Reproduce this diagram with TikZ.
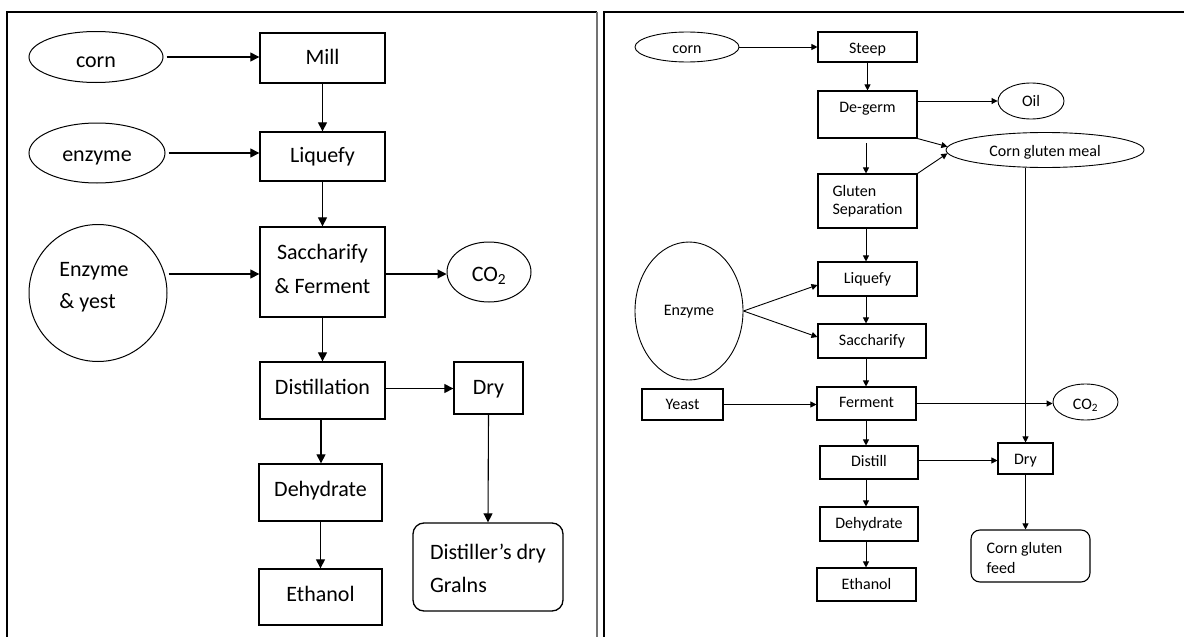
\documentclass[tikz,border=0pt]{standalone}
\usepackage{fontspec}
\setmainfont{Carlito}
\usetikzlibrary{arrows.meta,shapes.geometric,calc}
\newcommand{\twoc}[2]{\begin{tabular}[t]{@{}c@{}}#1\\#2\end{tabular}}
\newcommand{\twol}[2]{\begin{tabular}[t]{@{}l@{}}#1\\#2\end{tabular}}
\tikzset{
  tp/.style 2 args={text height=#1pt, text depth=#2pt},
  lbox/.style={draw, line width=1.3pt, rectangle, inner sep=0pt, minimum width=125pt, minimum height=50pt, font=\fontsize{22}{33}\selectfont},
  lell/.style={draw, line width=1pt, ellipse, inner sep=0pt, font=\fontsize{22}{33}\selectfont},
  larrow/.style={line width=1.1pt, -{Triangle[length=9pt,width=9pt]}},
  rbox/.style={draw, line width=1.1pt, rectangle, inner sep=0pt, minimum width=99pt, minimum height=33pt, font=\fontsize{16}{17.3}\selectfont},
  rell/.style={draw, line width=0.9pt, ellipse, inner sep=0pt, font=\fontsize{16}{17.3}\selectfont},
  rarrow/.style={line width=0.9pt, -{Triangle[length=6pt,width=6pt]}},
  frame/.style={line width=1.2pt}
}
\begin{document}
\begin{tikzpicture}[x=1pt,y=-1pt]
\useasboundingbox (0,0) rectangle (1184,637);
% panel frames
\draw[frame] (7,637) -- (7,12) -- (597,12);
\draw[line width=2pt, black!55] (597,12) -- (597,637);
\draw[frame] (604,637) -- (604,12) -- (1184,12);

% ---------------- left panel ----------------
\node[lell, tp={20}{0}, minimum width=134pt, minimum height=51pt] (lcorn) at (96,57) {corn};
\node[lbox, tp={12}{0}] (mill) at (322.5,58) {Mill};
\node[lell, tp={16}{0}, minimum width=136pt, minimum height=60pt] (lenz) at (97,153) {enzyme};
\node[lbox, tp={12}{0}, minimum height=49pt] (lliq) at (322.5,156.5) {Liquefy};
\node[lell, tp={0}{34}, minimum width=138pt, minimum height=137pt, font=\fontsize{22}{32}\selectfont] (ley) at (98,293) {\twol{Enzyme}{\& yest}\hspace*{8pt}};
\node[lbox, tp={0}{26}, minimum height=90pt, font=\fontsize{22}{34}\selectfont] (lsac) at (322.5,272) {\twoc{Saccharify}{\& Ferment}};
\node[lell, tp={18}{0}, minimum width=84pt, minimum height=60pt] (lco2) at (489,272) {CO\textsubscript{2}};
\node[lbox, tp={7}{0}, minimum height=57pt] (ldist) at (322.5,390.5) {Distillation};
\node[lbox, tp={12}{0}, minimum width=69pt, minimum height=52pt] (ldry) at (488.5,388) {Dry};
\node[lbox, tp={7}{0}, minimum width=123pt, minimum height=57pt] (ldeh) at (320.5,492.5) {Dehydrate};
\node[lbox, tp={9.4}{0}, minimum width=123pt, minimum height=56pt] (leth) at (320.5,597) {Ethanol};
\node[lbox, tp={0}{16}, rounded corners=11pt, minimum width=150pt, minimum height=88pt, font=\fontsize{22}{33.7}\selectfont] (lddg) at (488,567) {\twol{Distiller’s dry}{Gralns}};

\draw[larrow] ([xshift=3pt]lcorn.east) -- (lcorn.east -| mill.west);
\draw[larrow] (mill.south) -- (lliq.north);
\draw[larrow] ([xshift=3pt]lenz.east) -- (lenz.east -| lliq.west);
\draw[larrow] (lliq.south) -- (lsac.north);
\draw[larrow] ([xshift=1pt,yshift=-2pt]ley.east |- lsac.west) -- ([yshift=-2pt]lsac.west);
\draw[larrow] ([yshift=-2pt]lsac.east) -- ([yshift=-2pt]lsac.east -| lco2.west);
\draw[larrow] (lsac.south) -- (lsac.south |- ldist.north);
\draw[larrow] ([yshift=2pt]ldist.east) -- ([yshift=2pt]ldist.east -| ldry.west);
\draw[larrow] (ldry.south) -- (lddg.north);
\draw[larrow] ([xshift=-1.5pt]ldist.south) -- ([xshift=-1.5pt]ldist.south |- ldeh.north);
\draw[larrow] (ldeh.south) -- (leth.north);

% ---------------- right panel ----------------
\node[rell, tp={12}{0}, minimum width=104pt, minimum height=30pt] (rcorn) at (687,47) {corn};
\node[rbox, tp={12}{0}, minimum height=30pt] (steep) at (867.5,47) {Steep};
\node[rbox, tp={0}{4}, minimum height=47pt] (degerm) at (867.5,114.5) {De-germ};
\node[rell, tp={11.4}{0}, minimum width=66pt, minimum height=36pt] (oil) at (1031,101) {Oil};
\node[rell, tp={12}{0}, minimum width=198pt, minimum height=35pt] (cgm) at (1045,150) {Corn gluten meal};
\node[rbox, tp={0}{8.6}, minimum height=54pt] (gsep) at (867.5,201) {\twol{Gluten}{Separation}};
\node[rbox, tp={8.6}{0}, minimum height=34pt] (rliq) at (867.5,279) {Liquefy};
\node[rell, tp={8}{0}, minimum width=108pt, minimum height=138pt] (renz) at (689,311) {Enzyme};
\node[rbox, tp={8}{0}, minimum width=108pt, minimum height=34pt] (rsac) at (872,341) {Saccharify};
\node[rbox, tp={10}{0}, minimum width=81pt, minimum height=31pt] (yeast) at (682.5,404.5) {Yeast};
\node[rbox, tp={8}{0}] (rferm) at (866.5,403.5) {Ferment};
\node[rell, tp={14}{0}, minimum width=65pt, minimum height=36pt] (rco2) at (1085.5,402) {CO\textsubscript{2}};
\node[rbox, tp={8}{0}, minimum width=98pt] (rdist) at (869,462.5) {Distill};
\node[rbox, tp={11}{0}, minimum width=55pt, minimum height=31pt] (rdry) at (1025.5,458.5) {Dry};
\node[rbox, tp={8.6}{0}, minimum width=98pt, minimum height=34pt] (rdeh) at (869,524) {Dehydrate};
\node[rbox, tp={10}{0}] (reth) at (866.5,584.5) {Ethanol};
\node[rbox, tp={0}{6}, rounded corners=9pt, minimum width=119pt, minimum height=52pt, font=\fontsize{16}{20}\selectfont] (cgf) at (1030.5,556) {\twol{Corn gluten}{feed}\hspace*{12pt}};
\coordinate (dgs) at (866,143);

\draw[rarrow] (rcorn.east) -- (rcorn.east -| steep.west);
\draw[rarrow] (steep.south) -- (degerm.north);
\draw[rarrow] (degerm.east |- oil.west) -- (oil.west);
\draw[rarrow] (degerm.south east) -- (cgm.178);
\draw[rarrow] (dgs) -- (dgs |- gsep.north);
\draw[rarrow] (gsep.north east) -- (cgm.182);
\draw[rarrow] (dgs |- gsep.south) -- (dgs |- rliq.north);
\draw[rarrow] (dgs |- rliq.south) -- (dgs |- rsac.north);
\draw[rarrow] (renz.east) -- ([yshift=-6pt]rliq.west);
\draw[rarrow] (renz.east) -- ([yshift=4pt]rsac.west);
\draw[rarrow] (dgs |- rsac.south) -- (dgs |- rferm.north);
\draw[rarrow] (yeast.east) -- (yeast.east -| rferm.west);
\draw[rarrow] (rferm.east) -- (rferm.east -| rco2.west);
\draw[rarrow] (rdry.north |- cgm.south) -- (rdry.north);
\draw[rarrow] (dgs |- rferm.south) -- (dgs |- rdist.north);
\draw[rarrow] ([yshift=2pt]rdist.east) -- ([yshift=2pt]rdist.east -| rdry.west);
\draw[rarrow] (dgs |- rdist.south) -- (dgs |- rdeh.north);
\draw[rarrow] (dgs |- rdeh.south) -- (dgs |- reth.north);
\draw[rarrow] (rdry.south) -- (rdry.south |- cgf.north);
\end{tikzpicture}
\end{document}
